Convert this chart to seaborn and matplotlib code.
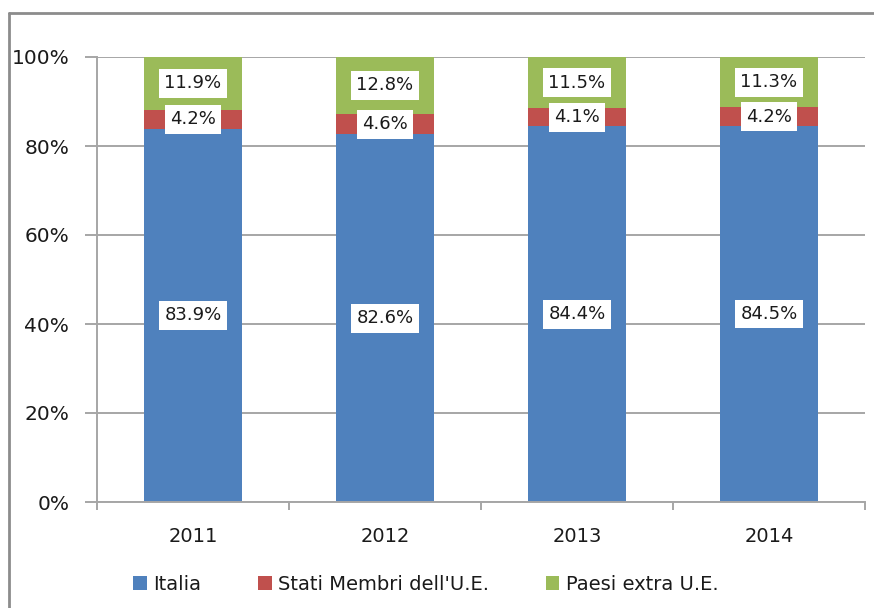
import matplotlib
matplotlib.use("Agg")
import matplotlib.pyplot as plt
from matplotlib.lines import Line2D
from matplotlib.patches import Patch
import numpy as np
import pandas as pd
import seaborn as sns

# Data: share of units by origin, per year (percent)
years = ["2011", "2012", "2013", "2014"]
italia = [83.9, 82.6, 84.4, 84.5]
stati_ue = [4.2, 4.6, 4.1, 4.2]
extra_ue = [11.9, 12.8, 11.5, 11.3]
series_names = ["Italia", "Stati Membri dell'U.E.", "Paesi extra U.E."]
colors = ["#4F81BD", "#C0504D", "#9BBB59"]
y_ticks = [0, 20, 40, 60, 80, 100]

sns.set_theme(style="white")
plt.rcParams["font.family"] = ["DejaVu Sans"]

fig = plt.figure(figsize=(8.74, 6.08), dpi=100)
ax = fig.add_axes([97 / 874, 1 - 502 / 608, (865 - 97) / 874, (502 - 57) / 608])

df = pd.DataFrame({"anno": years, "Italia": italia,
                   "Stati Membri dell'U.E.": stati_ue,
                   "Paesi extra U.E.": extra_ue})

grid_color = "#A6A6A6"
text_color = "#1a1a1a"
ax.set_axisbelow(True)
ax.yaxis.grid(True, color=grid_color, linewidth=1.4)

bottom = np.zeros(len(years))
for name, col in zip(series_names, colors):
    sns.barplot(data=df, x="anno", y=name, color=col, width=0.51,
                bottom=bottom, ax=ax, saturation=1, edgecolor="none")
    bottom = bottom + df[name].values

for cont in ax.containers:
    labels = [f"{b.get_height():.1f}%" for b in cont]
    ax.bar_label(cont, labels=labels, label_type="center", fontsize=13,
                 color=text_color,
                 bbox=dict(boxstyle="square,pad=0.3", facecolor="white",
                           edgecolor="none"))

ax.set_xlim(-0.5, 3.5)
ax.set_ylim(0, 100)
ax.set_yticks(y_ticks)
ax.set_yticklabels([f"{v}%" for v in y_ticks], fontsize=14.5, color=text_color)
ax.tick_params(axis="y", length=8.5, width=1.4, color=grid_color, pad=11.5,
               left=True)

# category boundaries as major ticks, year labels on minor ticks
ax.set_xticks([-0.5, 0.5, 1.5, 2.5, 3.5])
ax.set_xticklabels([])
ax.set_xticks(range(len(years)), minor=True)
ax.set_xticklabels(years, minor=True, fontsize=14, color=text_color)
ax.tick_params(axis="x", which="major", length=6, width=1.4, color=grid_color,
               bottom=True)
ax.tick_params(axis="x", which="minor", length=0, pad=18)
ax.set_xlabel("")
ax.set_ylabel("")

for side in ["top", "right"]:
    ax.spines[side].set_visible(False)
for side in ["left", "bottom"]:
    ax.spines[side].set_color(grid_color)
    ax.spines[side].set_linewidth(1.4)

handles = [Patch(facecolor=c, edgecolor="none") for c in colors]
fig.legend(handles, series_names, loc="center", ncol=3,
           bbox_to_anchor=(426 / 874, 1 - 584 / 608), frameon=False,
           fontsize=14, handlelength=0.7, handleheight=0.75,
           handletextpad=0.35, columnspacing=2.9, labelcolor=text_color)

# outer chart frame (left and top edges)
frame_color = "#8C8C8C"
fig.add_artist(Line2D([8.5 / 874, 8.5 / 874], [0, 1 - 13 / 608],
                      transform=fig.transFigure, color=frame_color, linewidth=2))
fig.add_artist(Line2D([8.5 / 874, 1], [1 - 13 / 608, 1 - 13 / 608],
                      transform=fig.transFigure, color=frame_color, linewidth=2))

fig.savefig("out.png", dpi=100, facecolor="white")
